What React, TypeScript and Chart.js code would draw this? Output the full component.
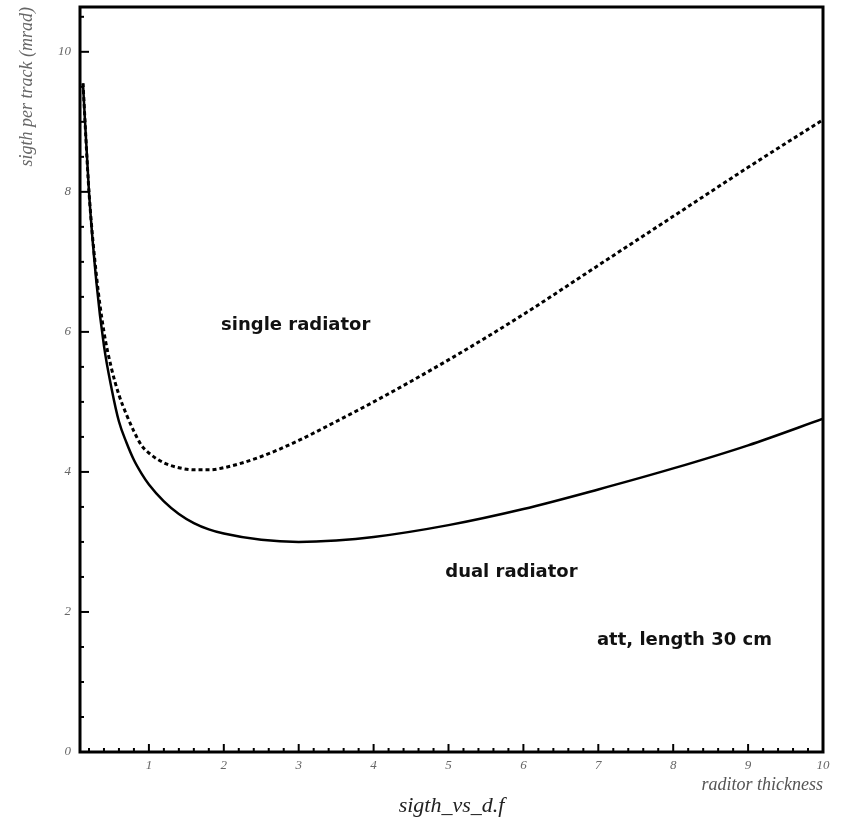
import { useEffect, useRef } from 'react';
import { Chart, registerables } from 'chart.js';

Chart.register(...registerables);

// radiator thickness (x)
const THICKNESS = [0.12, 0.2, 0.3, 0.4, 0.5, 0.6, 0.7, 0.8, 0.9, 1.0, 1.2, 1.4, 1.6, 1.8, 2.0, 2.5, 3.0, 3.5, 4.0, 5.0, 6.0, 7.0, 8.0, 9.0, 10.0];
// single radiator (dotted)
const SINGLE = [9.55, 8.0, 6.8, 6.0, 5.48, 5.1, 4.82, 4.58, 4.38, 4.27, 4.13, 4.06, 4.03, 4.03, 4.06, 4.22, 4.45, 4.72, 5.0, 5.6, 6.25, 6.95, 7.65, 8.35, 9.03];
// dual radiator (solid)
const DUAL = [9.55, 8.0, 6.7, 5.8, 5.2, 4.72, 4.42, 4.17, 3.98, 3.82, 3.58, 3.4, 3.27, 3.18, 3.12, 3.03, 3.0, 3.02, 3.07, 3.24, 3.47, 3.75, 4.05, 4.38, 4.76];

const X_TICKS = [1, 2, 3, 4, 5, 6, 7, 8, 9, 10];
const Y_TICKS = [0, 2, 4, 6, 8, 10];

const NOTE_TEXT = ['single radiator', 'dual radiator', 'att, length 30 cm'];
const NOTE_X = [2.96, 5.84, 8.15];
const NOTE_Y = [6.1, 2.57, 1.59];

const X_MIN = 0.08;
const X_MAX = 10;
const Y_MIN = 0;
const Y_MAX = 10.64;

const framePlugin = {
  id: 'frameTicks',
  afterDatasetsDraw(chart: any) {
    const { ctx, chartArea } = chart;
    const xs = chart.scales.x;
    const ys = chart.scales.y;
    const { left, right, top, bottom } = chartArea;
    ctx.save();
    ctx.strokeStyle = '#000';
    ctx.fillStyle = '#000';
    // inward ticks along x
    ctx.lineWidth = 2;
    for (let i = 1; i < 50; i++) {
      const v = i * 0.2;
      if (v < X_MIN || v > X_MAX) continue;
      const isMajor = Math.abs(v - Math.round(v)) < 1e-6;
      const px = xs.getPixelForValue(v);
      const len = isMajor ? 8 : 4;
      ctx.beginPath();
      ctx.moveTo(px, bottom);
      ctx.lineTo(px, bottom - len);
      ctx.stroke();
    }
    // inward ticks along y
    for (let i = 1; i <= 21; i++) {
      const v = i * 0.5;
      if (v > Y_MAX) continue;
      const isMajor = Math.abs(v / 2 - Math.round(v / 2)) < 1e-6;
      const py = ys.getPixelForValue(v);
      const len = isMajor ? 9 : 4;
      ctx.beginPath();
      ctx.moveTo(left, py);
      ctx.lineTo(left + len, py);
      ctx.stroke();
    }
    // frame
    ctx.lineWidth = 3;
    ctx.strokeRect(left, top, right - left, bottom - top);
    // notes
    ctx.font = 'bold 18px "DejaVu Sans"';
    ctx.textAlign = 'center';
    ctx.textBaseline = 'middle';
    ctx.fillStyle = '#111';
    NOTE_TEXT.forEach((t, i) => {
      ctx.fillText(t, xs.getPixelForValue(NOTE_X[i]), ys.getPixelForValue(NOTE_Y[i]));
    });
    ctx.restore();
  },
};

export default function App() {
  const ref = useRef<HTMLCanvasElement | null>(null);

  useEffect(() => {
    document.body.style.margin = '0';
    document.body.style.overflow = 'hidden';
    const canvas = ref.current;
    if (!canvas) return;
    const chart = new Chart(canvas, {
      type: 'scatter',
      data: {
        datasets: [
          {
            label: 'single radiator',
            data: THICKNESS.map((x, i) => ({ x, y: SINGLE[i] })),
            showLine: true,
            borderColor: '#000',
            borderWidth: 3,
            borderDash: [4, 3],
            pointRadius: 0,
            cubicInterpolationMode: 'monotone',
            fill: false,
          },
          {
            label: 'dual radiator',
            data: THICKNESS.map((x, i) => ({ x, y: DUAL[i] })),
            showLine: true,
            borderColor: '#000',
            borderWidth: 2.5,
            pointRadius: 0,
            cubicInterpolationMode: 'monotone',
            fill: false,
          },
        ],
      },
      options: {
        responsive: false,
        animation: false,
        layout: { padding: { top: 7, right: 25, left: 0, bottom: 0 } },
        plugins: {
          legend: { display: false },
          tooltip: { enabled: false },
          title: {
            display: true,
            text: 'sigth_vs_d.f',
            position: 'bottom',
            fullSize: false,
            color: '#222',
            font: { family: '"Liberation Serif", serif', size: 22, style: 'italic', weight: 'normal', lineHeight: 1.0 },
            padding: { top: 0, bottom: 5 },
          },
        },
        scales: {
          x: {
            type: 'linear',
            min: X_MIN,
            max: X_MAX,
            afterBuildTicks: (s: any) => {
              s.ticks = X_TICKS.map((v) => ({ value: v }));
            },
            afterFit: (s: any) => {
              s.height = 43;
              s.paddingLeft = 0;
              s.paddingRight = 0;
            },
            grid: { display: false, drawTicks: false, tickLength: 0 },
            border: { display: false },
            ticks: {
              color: '#666',
              padding: 6,
              maxRotation: 0,
              autoSkip: false,
              font: { family: '"Liberation Serif", serif', size: 13, style: 'italic' },
            },
            title: {
              display: true,
              text: 'raditor thickness',
              align: 'end',
              color: '#555',
              font: { family: '"Liberation Serif", serif', size: 18, style: 'italic', lineHeight: 1.1 },
              padding: { top: 0, bottom: 0 },
            },
          },
          y: {
            type: 'linear',
            min: Y_MIN,
            max: Y_MAX,
            afterBuildTicks: (s: any) => {
              s.ticks = Y_TICKS.map((v) => ({ value: v }));
            },
            afterFit: (s: any) => {
              s.width = 80;
              s.paddingTop = 0;
              s.paddingBottom = 0;
            },
            grid: { display: false, drawTicks: false, tickLength: 0 },
            border: { display: false },
            ticks: {
              color: '#666',
              padding: 9,
              autoSkip: false,
              font: { family: '"Liberation Serif", serif', size: 13, style: 'italic' },
            },
            title: {
              display: true,
              text: 'sigth per track (mrad)',
              align: 'end',
              color: '#666',
              font: { family: '"Liberation Serif", serif', size: 18, style: 'italic', lineHeight: 1.2 },
              padding: { top: 16, bottom: 0 },
            },
          },
        },
      },
      plugins: [framePlugin],
    });
    return () => chart.destroy();
  }, []);

  return (
    <div style={{ width: 848, height: 822 }}>
      <canvas ref={ref} width={848} height={822} style={{ display: 'block' }} />
    </div>
  );
}
